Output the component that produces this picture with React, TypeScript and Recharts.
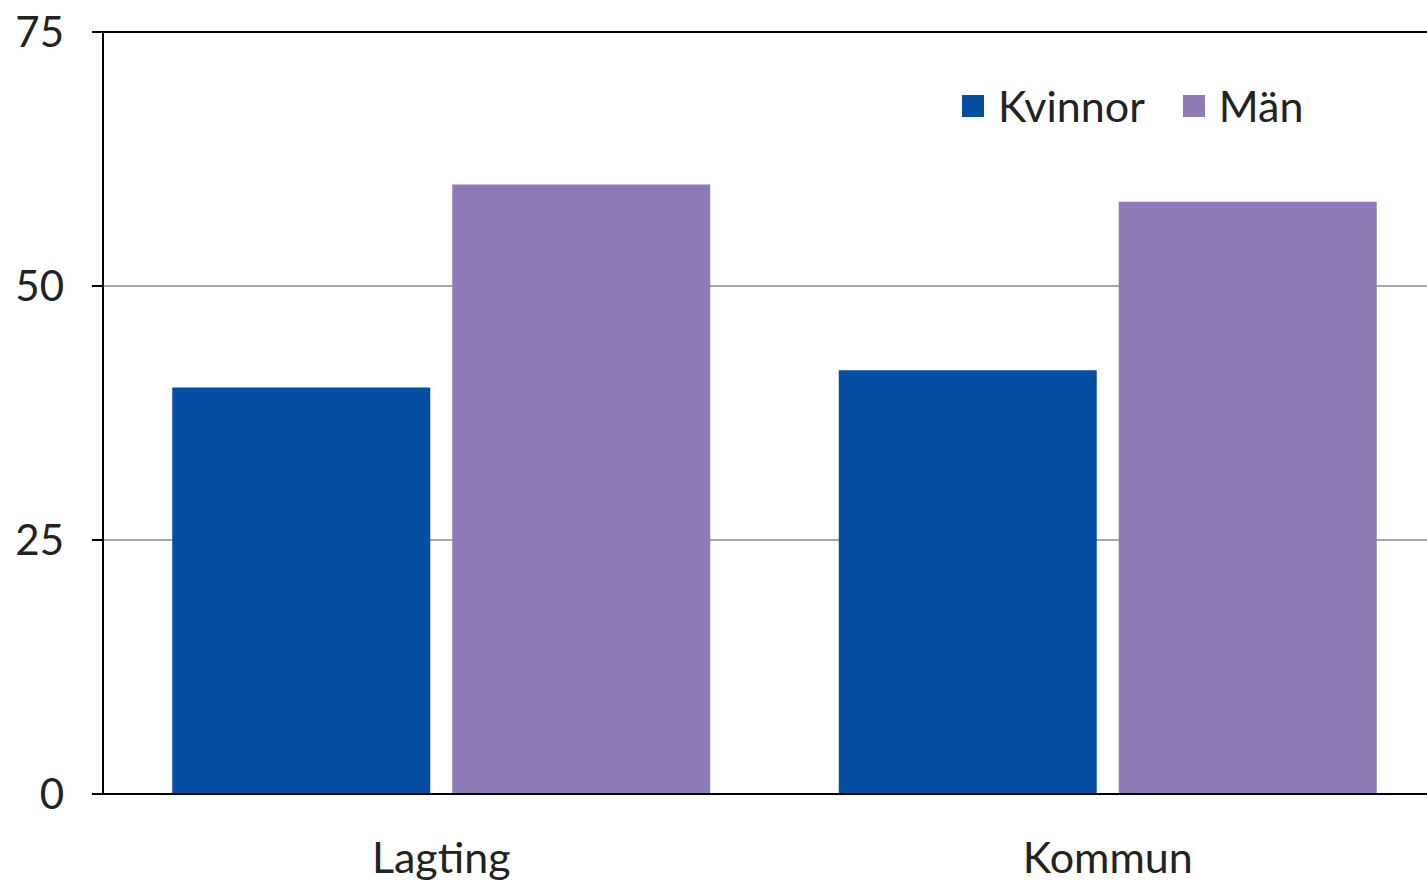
import React from "react";
import { BarChart, Bar, XAxis, YAxis, CartesianGrid, ReferenceLine } from "recharts";

const categories = ["Lagting", "Kommun"];
const kvinnor = [40, 41.7];
const man = [60, 58.3];
const yTicks = [0, 25, 50, 75];
const seriesNames = ["Kvinnor", "Män"];

const data = categories.map((c, i) => ({ name: c, Kvinnor: kvinnor[i], Män: man[i] }));

const BLUE = "#054ea1";
const PURPLE = "#8e7ab6";
const FONT = "Lato, 'Open Sans', sans-serif";

export default function App() {
  return (
    <div style={{ position: "fixed", left: 0, top: 0, width: 1427, height: 883, overflow: "hidden", background: "#fff" }}>
      <BarChart
        width={1461}
        height={883}
        data={data}
        margin={{ top: 32, right: 20, bottom: 0, left: 0 }}
        barGap={22}
        barCategoryGap="9.64%"
      >
        <CartesianGrid vertical={false} stroke="#8a8a8a" strokeWidth={1.5} />
        <XAxis
          dataKey="name"
          height={89}
          padding={{ left: 5, right: 0 }}
          tickLine={false}
          axisLine={{ stroke: "#000", strokeWidth: 2 }}
          tick={{ fontFamily: FONT, fontSize: 43, fill: "#222" }}
          tickMargin={42}
        />
        <YAxis
          width={103}
          domain={[0, 75]}
          ticks={yTicks}
          interval={0}
          tickSize={11}
          tickMargin={28}
          axisLine={{ stroke: "#000", strokeWidth: 2 }}
          tickLine={{ stroke: "#000", strokeWidth: 2 }}
          tick={{ fontFamily: FONT, fontSize: 42, fill: "#222" }}
        />
        <ReferenceLine y={75} stroke="#000" strokeWidth={2} />
        <Bar dataKey="Kvinnor" fill={BLUE} isAnimationActive={false} />
        <Bar dataKey="Män" fill={PURPLE} isAnimationActive={false} />
      </BarChart>
      <div
        style={{
          position: "absolute",
          left: 962,
          top: 80,
          display: "flex",
          alignItems: "center",
          fontFamily: FONT,
          fontSize: 43,
          color: "#222",
        }}
      >
        <span style={{ width: 22, height: 22, background: BLUE, display: "inline-block", marginRight: 14 }} />
        <span style={{ marginRight: 38 }}>{seriesNames[0]}</span>
        <span style={{ width: 22, height: 22, background: PURPLE, display: "inline-block", marginRight: 14 }} />
        <span>{seriesNames[1]}</span>
      </div>
    </div>
  );
}
